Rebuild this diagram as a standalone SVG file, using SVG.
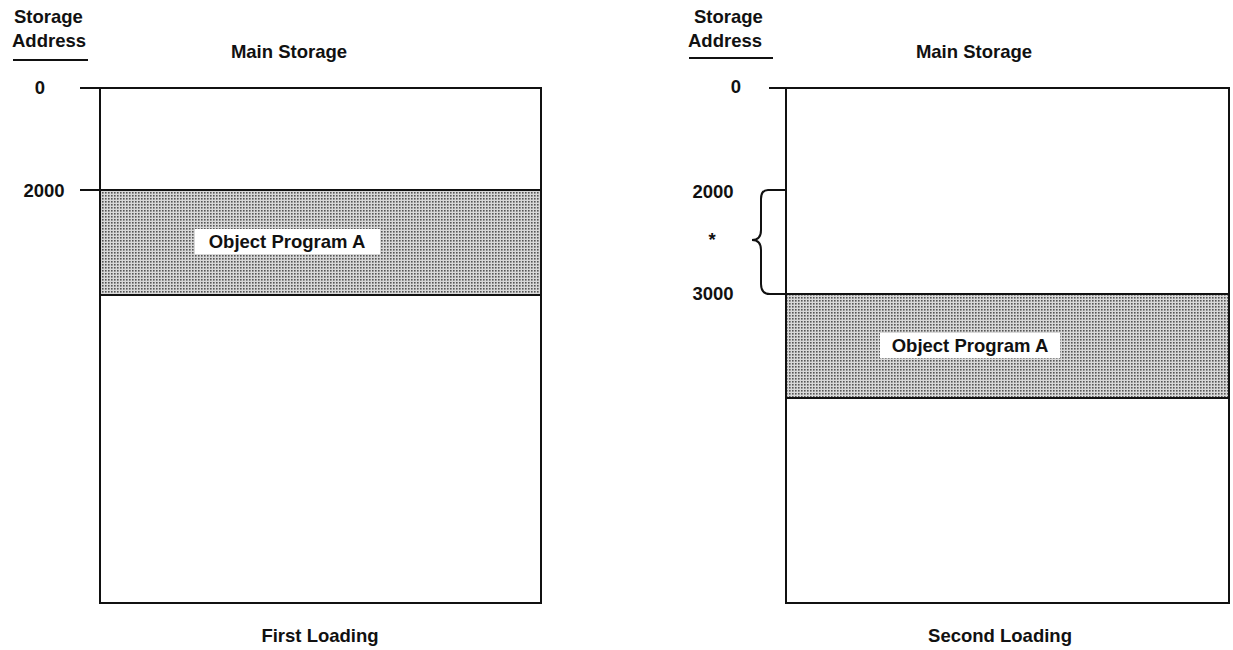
<svg xmlns="http://www.w3.org/2000/svg" width="1233" height="650" viewBox="0 0 1233 650">
<style>
text{font-family:"Liberation Sans",Arial,sans-serif;font-weight:bold;font-size:18.5px;fill:#111}
.ln{stroke:#111;stroke-width:2;fill:none}
.band{fill:url(#dots);stroke:#111;stroke-width:2}
.lbl{fill:#fff}
</style>
<defs>
<pattern id="dots" width="3" height="3" patternUnits="userSpaceOnUse">
<rect width="3" height="3" fill="#d8d8d8"/>
<rect x="0" y="0" width="1.6" height="1.6" fill="#555"/>
</pattern>
</defs>
<rect width="1233" height="650" fill="#fff"/>

<g id="left-diagram">
<g id="left-header">
<text x="14" y="23">Storage</text>
<text x="12" y="47">Address</text>
<line class="ln" x1="13" y1="60" x2="88" y2="60" stroke-width="1.5"/>
<text x="289" y="58" text-anchor="middle">Main Storage</text>
</g>
<g id="left-storage">
<rect class="ln" x="100" y="88" width="441" height="515"/>
<line class="ln" x1="80" y1="88" x2="100" y2="88"/>
</g>
<g id="left-program">
<rect class="band" x="100" y="190" width="441" height="105"/>
<line class="ln" x1="80" y1="190" x2="100" y2="190"/>
<rect class="lbl" x="195" y="229" width="185" height="25"/>
<text x="287" y="248" text-anchor="middle">Object Program A</text>
</g>
<text x="40" y="94" text-anchor="middle">0</text>
<text x="44" y="197" text-anchor="middle">2000</text>
<text x="320" y="642" text-anchor="middle">First Loading</text>
</g>

<g id="right-diagram">
<g id="right-header">
<text x="694" y="23">Storage</text>
<text x="688" y="47">Address</text>
<line class="ln" x1="689" y1="58" x2="773" y2="58" stroke-width="1.5"/>
<text x="974" y="58" text-anchor="middle">Main Storage</text>
</g>
<g id="right-storage">
<rect class="ln" x="786" y="88" width="443" height="515"/>
<line class="ln" x1="769" y1="88" x2="786" y2="88"/>
</g>
<g id="right-program">
<rect class="band" x="786" y="294" width="443" height="104"/>
<rect class="lbl" x="880" y="333" width="180" height="25"/>
<text x="970" y="352" text-anchor="middle">Object Program A</text>
</g>
<g id="connectors">
<path class="ln" d="M786 190 L768 190 Q761 190 761 199 L761 230 Q761 240 752 240 Q761 240 761 250 L761 284 Q761 294 770 294 L786 294"/>
</g>
<text x="736" y="93" text-anchor="middle">0</text>
<text x="713" y="198" text-anchor="middle">2000</text>
<text x="712" y="246" text-anchor="middle" font-size="15">*</text>
<text x="713" y="300" text-anchor="middle">3000</text>
<text x="1000" y="642" text-anchor="middle">Second Loading</text>
</g>
</svg>
